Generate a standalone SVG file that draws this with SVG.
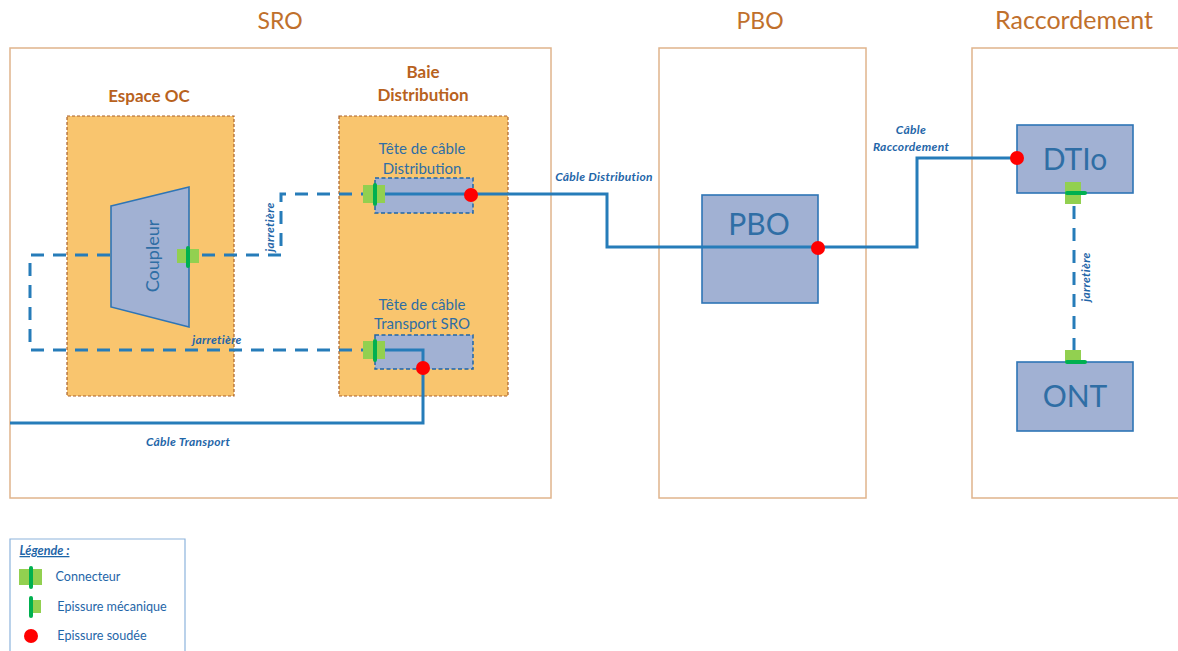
<svg xmlns="http://www.w3.org/2000/svg" width="1178" height="651" viewBox="0 0 1178 651">
<style>
text{font-family:Lato,"Liberation Sans",sans-serif;text-anchor:middle}
.zone{fill:#fff;stroke:#e0b48c;stroke-width:1.5}
.title{fill:#c0702c;font-size:23px}
.sub{fill:#b8621e;font-size:17px;font-weight:700}
.bay{fill:#f9c56e;stroke:#a9612a;stroke-width:1.2;stroke-dasharray:3 2}
.blue{fill:#a1b1d3;stroke:#2e75b6;stroke-width:1.6}
.head{fill:#a1b1d3;stroke:#1f66a8;stroke-width:1.5;stroke-dasharray:4 2.5}
.lbl{fill:#2f6ea5;font-size:15px}
.big{fill:#2f6ea5;font-size:30px}
.cap{fill:#1f66a8;font-size:12px;font-style:italic;font-weight:700;letter-spacing:.3px}
.leg{fill:#1f66a8;font-size:12.6px}
.cable{fill:none;stroke:#267cb9;stroke-width:3}
.dash{fill:none;stroke:#267cb9;stroke-width:3;stroke-dasharray:13 9}
.lg{fill:#92d050}
.dg{fill:#00b050}
.weld{fill:#ff0000}
</style>
<g id="zones">
<rect class="zone" x="10" y="48" width="541" height="450"/>
<rect class="zone" x="659" y="48" width="207" height="450"/>
<path class="zone" d="M1178 48H972V498H1178"/>
</g>
<g id="titles">
<text class="title" x="280" y="29">SRO</text>
<text class="title" x="760" y="29">PBO</text>
<text class="title" x="1074" y="29" style="font-size:25px">Raccordement</text>
</g>
<g id="espace-oc">
<rect class="bay" x="67" y="116" width="167" height="280"/>
<text class="sub" x="149" y="102">Espace OC</text>
</g>
<g id="baie-distribution">
<rect class="bay" x="339" y="116" width="169" height="280"/>
<text class="sub" x="423" y="78">Baie</text>
<text class="sub" x="423" y="101">Distribution</text>
</g>
<g id="coupleur">
<path class="blue" d="M111 206L189 187V327L111 307Z"/>
<text class="lbl" style="font-size:18px" transform="translate(159 256) rotate(-90)">Coupleur</text>
</g>
<g id="tete-distribution">
<text class="lbl" x="422" y="154">Tête de câble</text>
<text class="lbl" x="422" y="174">Distribution</text>
<rect class="head" x="375" y="178" width="98" height="35"/>
</g>
<g id="tete-transport">
<text class="lbl" x="422" y="310">Tête de câble</text>
<text class="lbl" x="422" y="329">Transport SRO</text>
<rect class="head" x="375" y="335" width="98" height="34"/>
</g>
<g id="pbo">
<rect class="blue" x="702" y="195" width="116" height="108"/>
<text class="big" x="759" y="235">PBO</text>
</g>
<g id="dtio">
<rect class="blue" x="1017" y="125" width="116" height="68"/>
<text class="big" x="1075" y="170">DTIo</text>
</g>
<g id="ont">
<rect class="blue" x="1017" y="362" width="116" height="69"/>
<text class="big" x="1075" y="407">ONT</text>
</g>
<g id="connectors">
<path class="cable" d="M385 194H607V247H917V158H1017"/>
<path class="cable" d="M385 350H423V423H10"/>
<path class="dash" d="M202 255H281V194H365"/>
<path class="dash" d="M110 255H30V350H365"/>
<path class="dash" d="M1074 206V362"/>
</g>
<g id="symbols">
<rect class="lg" x="363" y="185" width="22" height="18"/><rect class="dg" x="373" y="183" width="4" height="23" rx="2"/>
<rect class="lg" x="363" y="341" width="22" height="18"/><rect class="dg" x="373" y="339" width="4" height="23" rx="2"/>
<rect class="lg" x="177" y="249" width="22" height="14"/><rect class="dg" x="186" y="246" width="4" height="22" rx="2"/>
<rect class="lg" x="1065" y="182" width="16" height="22"/><rect class="dg" x="1065" y="191" width="22" height="4" rx="2"/>
<rect class="lg" x="1065" y="350" width="16" height="13"/><rect class="dg" x="1065" y="360" width="22" height="4" rx="2"/>
<circle class="weld" cx="471" cy="195" r="7"/>
<circle class="weld" cx="423" cy="368" r="7"/>
<circle class="weld" cx="818" cy="248" r="7"/>
<circle class="weld" cx="1017" cy="158" r="7"/>
</g>
<g id="labels">
<text class="cap" x="604" y="181">Câble Distribution</text>
<text class="cap" x="188" y="446">Câble Transport</text>
<text class="cap" x="911" y="134">Câble</text>
<text class="cap" x="911" y="151">Raccordement</text>
<text class="cap" x="217" y="344">jarretière</text>
<text class="cap" transform="translate(274 227) rotate(-90)">jarretière</text>
<text class="cap" transform="translate(1090 277) rotate(-90)">jarretière</text>
</g>
<g id="legende">
<path d="M10 651V539H185V651" fill="#fff" stroke="#8db4dc" stroke-width="1.2"/>
<text class="leg" x="44.5" y="555" style="font-style:italic;font-weight:700;text-decoration:underline">Légende :</text>
<rect class="lg" x="19" y="569" width="23" height="16"/><rect class="dg" x="29" y="566" width="4" height="23" rx="2"/>
<text class="leg" x="88" y="581">Connecteur</text>
<rect class="lg" x="30" y="600" width="11" height="13"/><rect class="dg" x="29" y="596" width="4" height="22" rx="2"/>
<text class="leg" x="112" y="611">Epissure mécanique</text>
<circle class="weld" cx="31" cy="636" r="7"/>
<text class="leg" x="102" y="640">Epissure soudée</text>
</g>
</svg>
